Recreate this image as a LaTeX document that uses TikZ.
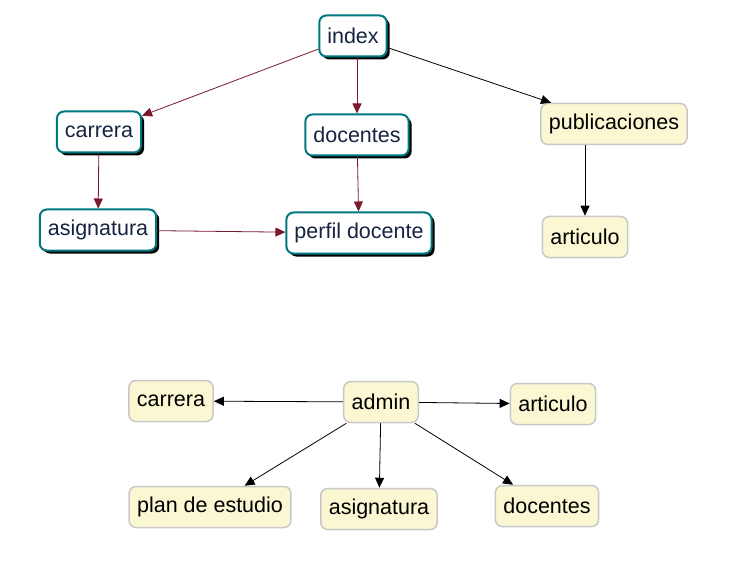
\documentclass[tikz,border=0pt]{standalone}
\usepackage{fontspec}
\setmainfont{Liberation Sans}
\usetikzlibrary{arrows.meta,shadows}
\definecolor{PageClr}{RGB}{0,120,128}
\definecolor{PageTxt}{RGB}{22,36,66}
\definecolor{AdminClr}{RGB}{250,247,210}
\definecolor{AdminLine}{RGB}{200,200,200}
\definecolor{LinkClr}{RGB}{122,24,44}

\begin{document}
\begin{tikzpicture}[x=1pt,y=-1pt,
  every node/.style={font=\fontsize{21.5}{25}\selectfont,inner xsep=8pt,
    minimum height=41pt,rounded corners=7pt},
  page/.style={draw=PageClr,line width=2pt,fill=white,text=PageTxt,
    drop shadow={shadow xshift=3pt,shadow yshift=-3pt,fill=black,opacity=1}},
  adm/.style={draw=AdminLine,line width=1.5pt,fill=AdminClr,text=black},
  link/.style={draw=LinkClr,line width=0.8pt,-{Triangle[length=10pt,width=9pt]}},
  go/.style={draw=black,line width=0.8pt,-{Triangle[length=10pt,width=9pt]}}]
\useasboundingbox (0,0) rectangle (730,585);

% public pages
\node[page] (index) at (353,36) {index};
\node[page] (carrera) at (99,132) {carrera};
\node[page] (docentes) at (357,135) {docentes};
\node[page] (asignatura) at (98,230) {asignatura};
\node[page] (perfil) at (359,233) {perfil docente};
\node[adm] (publicaciones) at (614,124) {publicaciones};
\node[adm] (articulo) at (585,237) {articulo};

\draw[link] (index) -- (carrera);
\draw[link] (docentes.north |- index.south) -- (docentes.north);
\draw[go] (index) -- (publicaciones);
\draw[link] (carrera) -- (asignatura);
\draw[link] (docentes) -- (perfil);
\draw[link] (asignatura) -- (perfil);
\draw[go] (articulo.north |- publicaciones.south) -- (articulo.north);

% admin
\node[adm] (admin) at (381,402) {admin};
\node[adm] (acarrera) at (171,401) {carrera};
\node[adm] (aarticulo) at (553,404) {articulo};
\node[adm] (plan) at (210,507) {plan de estudio};
\node[adm] (aasignatura) at (379,509) {asignatura};
\node[adm] (adocentes) at (547,506) {docentes};

\draw[go] (admin) -- (acarrera);
\draw[go] (admin) -- (aarticulo);
\draw[go] (admin) -- (plan);
\draw[go] (admin) -- (aasignatura);
\draw[go] (admin) -- (adocentes);

\end{tikzpicture}
\end{document}
